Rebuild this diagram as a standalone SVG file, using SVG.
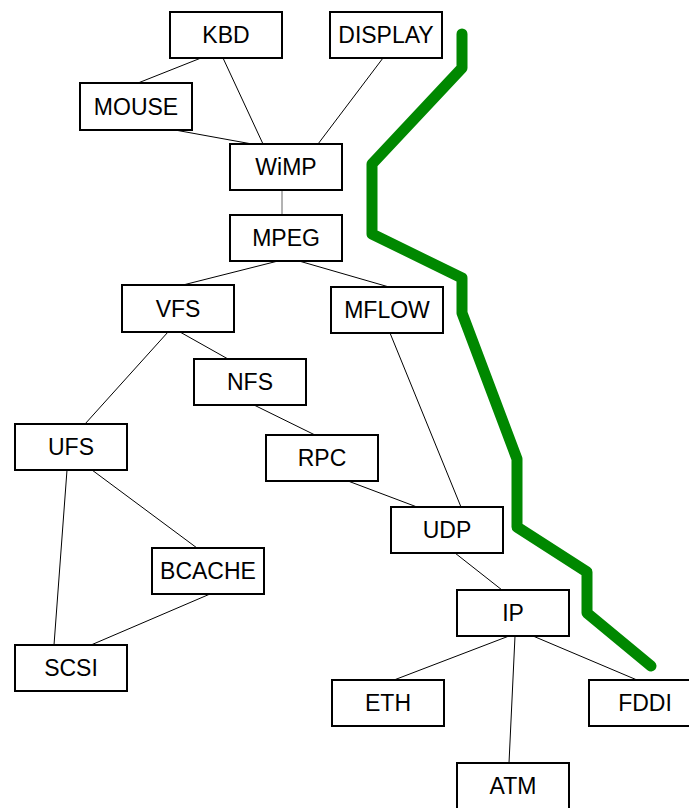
<svg xmlns="http://www.w3.org/2000/svg" width="689" height="808" viewBox="0 0 689 808">
<style>
.box{fill:#fff;stroke:#000;stroke-width:2}
.lbl{font-family:"Liberation Sans",Arial,sans-serif;font-size:23px;text-anchor:middle;fill:#000}
.edge{stroke:#000;stroke-width:1;fill:none}
</style>
<rect width="689" height="808" fill="#fff"/>
<g id="connectors">
<line class="edge" x1="201" y1="58" x2="138" y2="83"/>
<line class="edge" x1="223" y1="58" x2="263" y2="144"/>
<line class="edge" x1="383" y1="58" x2="318" y2="144"/>
<line class="edge" x1="175" y1="130" x2="252" y2="144"/>
<line x1="282" y1="190" x2="282" y2="215" stroke="#666" stroke-width="1"/>
<line class="edge" x1="278" y1="261" x2="183" y2="285"/>
<line class="edge" x1="299" y1="261" x2="389" y2="287"/>
<line class="edge" x1="168" y1="332" x2="85" y2="424"/>
<line class="edge" x1="180" y1="332" x2="228" y2="359"/>
<line class="edge" x1="390" y1="333" x2="461" y2="507"/>
<line class="edge" x1="254" y1="405" x2="315" y2="435"/>
<line class="edge" x1="67" y1="470" x2="54" y2="645"/>
<line class="edge" x1="92" y1="470" x2="197" y2="548"/>
<line class="edge" x1="210" y1="594" x2="91" y2="645"/>
<line class="edge" x1="348" y1="481" x2="417" y2="507"/>
<line class="edge" x1="455" y1="553" x2="502" y2="590"/>
<line class="edge" x1="509" y1="636" x2="394" y2="680"/>
<line class="edge" x1="515" y1="636" x2="509" y2="763"/>
<line class="edge" x1="533" y1="636" x2="637" y2="680"/>
</g>
<g id="KBD"><rect class="box" x="170" y="12" width="112" height="46"/><text class="lbl" x="226" y="43">KBD</text></g>
<g id="DISPLAY"><rect class="box" x="330" y="12" width="112" height="46"/><text class="lbl" x="386" y="43">DISPLAY</text></g>
<g id="MOUSE"><rect class="box" x="80" y="83" width="112" height="47"/><text class="lbl" x="136" y="115">MOUSE</text></g>
<g id="WiMP"><rect class="box" x="230" y="144" width="112" height="46"/><text class="lbl" x="286" y="175">WiMP</text></g>
<g id="MPEG"><rect class="box" x="230" y="215" width="112" height="46"/><text class="lbl" x="286" y="246">MPEG</text></g>
<g id="VFS"><rect class="box" x="122" y="285" width="112" height="47"/><text class="lbl" x="178" y="317">VFS</text></g>
<g id="MFLOW"><rect class="box" x="331" y="287" width="112" height="46"/><text class="lbl" x="387" y="318">MFLOW</text></g>
<g id="NFS"><rect class="box" x="194" y="359" width="112" height="46"/><text class="lbl" x="250" y="390">NFS</text></g>
<g id="UFS"><rect class="box" x="15" y="424" width="112" height="46"/><text class="lbl" x="71" y="455">UFS</text></g>
<g id="RPC"><rect class="box" x="266" y="435" width="112" height="46"/><text class="lbl" x="322" y="466">RPC</text></g>
<g id="UDP"><rect class="box" x="391" y="507" width="112" height="46"/><text class="lbl" x="447" y="538">UDP</text></g>
<g id="BCACHE"><rect class="box" x="152" y="548" width="112" height="46"/><text class="lbl" x="208" y="579">BCACHE</text></g>
<g id="IP"><rect class="box" x="457" y="590" width="112" height="46"/><text class="lbl" x="513" y="621">IP</text></g>
<g id="SCSI"><rect class="box" x="15" y="645" width="112" height="46"/><text class="lbl" x="71" y="676">SCSI</text></g>
<g id="ETH"><rect class="box" x="332" y="680" width="112" height="46"/><text class="lbl" x="388" y="711">ETH</text></g>
<g id="FDDI"><rect class="box" x="589" y="680" width="112" height="46"/><text class="lbl" x="645" y="711">FDDI</text></g>
<g id="ATM"><rect class="box" x="457" y="763" width="112" height="46"/><text class="lbl" x="513" y="794">ATM</text></g>
<path d="M462,34 L462,68 L372,164 L372,234 L462,278 L462,313 L517,459 L517,527 L587,572 L587,613 L651,666" fill="none" stroke="#008800" stroke-width="11" stroke-linecap="round" stroke-linejoin="round"/>
</svg>
